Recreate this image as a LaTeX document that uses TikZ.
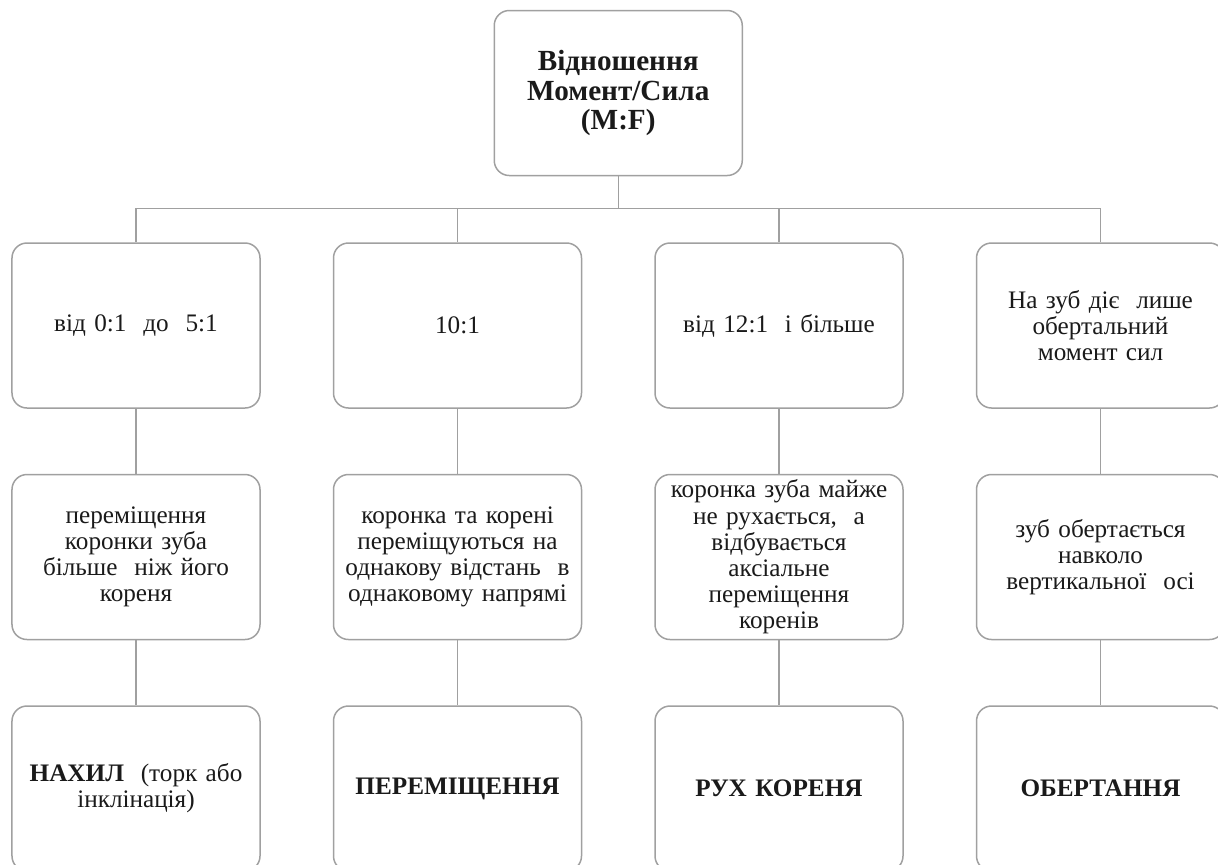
\documentclass[tikz,border=0pt]{standalone}
\usepackage{fontspec}
\setmainfont{Liberation Serif}
\usetikzlibrary{positioning, calc}
\definecolor{mfLineS}{HTML}{A0A0A0}
\definecolor{mfText}{HTML}{1A1A1A}
\tikzset{
  mfBase/.style={rectangle, draw=mfLineS, fill=white, rounded corners=7.5pt,
                 minimum width=124pt, minimum height=82.5pt, text width=121pt,
                 align=center, font=\fontsize{12.6}{13.1}\selectfont, line width=0.75pt,
                 inner xsep=1.5pt, inner ysep=1pt, text=mfText},
  mfHead/.style={mfBase, font=\fontsize{14.6}{14.6}\selectfont\bfseries},
  mfLink/.style={draw=mfLineS, line width=0.75pt},
}

\begin{document}
\begin{tikzpicture}[node distance=32.5pt and 36pt]
  \useasboundingbox (-68pt,162.75pt) rectangle (541pt,-269.25pt);

  % ─── Row 1: ratio ranges ─────────────────────────────────────────────
  \node[mfBase]              (c1) at (0,0) {від 0:1\ \ до\ \ 5:1};
  \node[mfBase, right=of c1] (c2)          {10:1};
  \node[mfBase, right=of c2] (c3)          {від 12:1\ \ і більше};
  \node[mfBase, right=of c3] (c4)          {На зуб діє\ \ лише\\обертальний\\момент сил};

  % ─── Head box, centred over the middle of row 1 ─────────────────────
  \coordinate (mid) at ($(c2.north)!0.5!(c3.north)$);
  \node[mfHead, above=33pt of mid] (mf) {Відношення\\Момент/Сила\\(M:F)};

  % ─── Row 2: how the tooth moves ─────────────────────────────────────
  \node[mfBase, below=of c1] (m1) {переміщення\\коронки зуба\\більше\ \ ніж його\\кореня};
  \node[mfBase, below=of c2] (m2) {коронка та корені\\переміщуються на\\однакову відстань\ \ в\\однаковому напрямі};
  \node[mfBase, below=of c3] (m3) {коронка зуба майже\\не рухається,\ \ а\\відбувається\\аксіальне\\переміщення\\коренів};
  \node[mfBase, below=of c4] (m4) {зуб обертається\\навколо\\вертикальної\ \ осі};

  % ─── Row 3: type of movement (cut by the page edge) ─────────────────
  \node[mfBase, below=of m1] (t1) {\textbf{НАХИЛ}\ \ (торк або\\інклінація)};
  \node[mfBase, below=of m2] (t2) {\textbf{ПЕРЕМІЩЕННЯ}};
  \node[mfBase, below=of m3] (t3) {\textbf{РУХ КОРЕНЯ}};
  \node[mfBase, below=of m4] (t4) {\textbf{ОБЕРТАННЯ}};

  % ─── Connectors ─────────────────────────────────────────────────────
  \coordinate (bus) at ($(mf.south)+(0,-16pt)$);
  \draw[mfLink] (mf.south) -- (bus);
  \foreach \i in {1,...,4} {
    \draw[mfLink] (bus) -| (c\i.north);
    \draw[mfLink] (c\i) -- (m\i);
    \draw[mfLink] (m\i) -- (t\i);
  }
\end{tikzpicture}
\end{document}
